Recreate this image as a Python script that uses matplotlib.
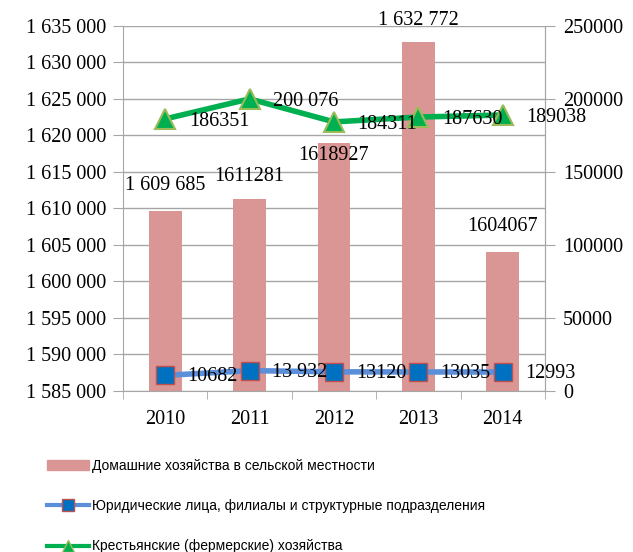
import matplotlib
matplotlib.use("Agg")
import matplotlib.pyplot as plt
from matplotlib.lines import Line2D
from matplotlib.patches import Patch

years = ["2010", "2011", "2012", "2013", "2014"]
households = [1609685, 1611281, 1618927, 1632772, 1604067]
household_labels = ["1 609 685", "1611281", "1618927", "1 632 772", "1604067"]
legal = [10682, 13932, 13120, 13035, 12993]
legal_labels = ["10682", "13 932", "13120", "13035", "12993"]
farms = [186351, 200076, 184311, 187630, 189038]
farm_labels = ["186351", "200 076", "184311", "187630", "189038"]

left_ticks = [1585000, 1590000, 1595000, 1600000, 1605000, 1610000,
              1615000, 1620000, 1625000, 1630000, 1635000]
right_ticks = [0, 50000, 100000, 150000, 200000, 250000]

SERIF = "Liberation Serif"
GRID = "#a6a6a6"

fig = plt.figure(figsize=(6.33, 5.52), dpi=100)
ax = fig.add_axes([0.1943, 0.2917, 0.6667, 0.6612])
x = list(range(len(years)))

ax.bar(x, [v - left_ticks[0] for v in households], bottom=left_ticks[0],
       width=0.39, color="#d99694", zorder=2)
ax.set_ylim(left_ticks[0], left_ticks[-1])
ax.set_xlim(-0.5, len(years) - 0.5)
ax.set_yticks(left_ticks)
ax.set_yticklabels([f"{v:,}".replace(",", " ") for v in left_ticks],
                   fontfamily=SERIF, fontsize=14.5)
ax.yaxis.grid(True, color=GRID, lw=1, zorder=0)
ax.set_xticks(x)
ax.set_xticklabels(years, fontfamily=SERIF, fontsize=14.5)
ax.set_xticks([i - 0.5 for i in range(len(years) + 1)], minor=True)
ax.tick_params(axis="x", which="major", length=0, pad=14)
ax.tick_params(axis="x", which="minor", length=6, color=GRID)
ax.tick_params(axis="y", length=7, color=GRID, pad=5)
for s in ax.spines.values():
    s.set_color(GRID)
ax.spines["top"].set_visible(False)

bar_offsets = [(0, 18), (0, 16), (0, -9), (0, 16), (0, 18)]
for i, (v, lab) in enumerate(zip(households, household_labels)):
    ax.annotate(lab, (i, v), xytext=bar_offsets[i], textcoords="offset points",
                ha="center", va="center", fontfamily=SERIF, fontsize=14.5,
                zorder=5)

ax2 = ax.twinx()
ax2.set_ylim(right_ticks[0], right_ticks[-1])
ax2.set_yticks(right_ticks)
ax2.set_yticklabels([str(v) for v in right_ticks], fontfamily=SERIF,
                    fontsize=14.5)
ax2.tick_params(axis="y", length=7, color=GRID, pad=6)
for s in ax2.spines.values():
    s.set_visible(False)
ax2.spines["right"].set_visible(True)
ax2.spines["right"].set_color(GRID)

ax2.plot(x, legal, color="#5b8fd9", lw=4, marker="s", markersize=13,
         markerfacecolor="#0070c0", markeredgecolor="#c0504d",
         markeredgewidth=1, zorder=3)
ax2.plot(x, farms, color="#00b050", lw=4, marker="^", markersize=15,
         markerfacecolor="#00b050", markeredgecolor="#9bbb59",
         markeredgewidth=1.5, zorder=3)

for i, (v, lab) in enumerate(zip(legal, legal_labels)):
    ax2.annotate(lab, (i, v), xytext=(16, -1), textcoords="offset points",
                 ha="left", va="center", fontfamily=SERIF, fontsize=14.5)
for i, (v, lab) in enumerate(zip(farms, farm_labels)):
    ax2.annotate(lab, (i, v), xytext=(17, -2), textcoords="offset points",
                 ha="left", va="center", fontfamily=SERIF, fontsize=14.5)

handles = [
    Patch(color="#d99694"),
    Line2D([], [], color="#5b8fd9", lw=3, marker="s", markersize=8,
           markerfacecolor="#0070c0", markeredgecolor="#c0504d"),
    Line2D([], [], color="#00b050", lw=3, marker="^", markersize=9,
           markerfacecolor="#00b050", markeredgecolor="#9bbb59"),
]
names = [
    "Домашние хозяйства в сельской местности",
    "Юридические лица, филиалы и структурные подразделения",
    "Крестьянские (фермерские) хозяйства",
]
fig.legend(handles, names, loc="upper left", bbox_to_anchor=(0.075, 0.169),
           frameon=False, labelspacing=1.9, handlelength=3,
           handletextpad=0.2, borderaxespad=0, borderpad=0,
           prop={"family": "Liberation Sans", "size": 10})

fig.savefig("out.png", dpi=100)
